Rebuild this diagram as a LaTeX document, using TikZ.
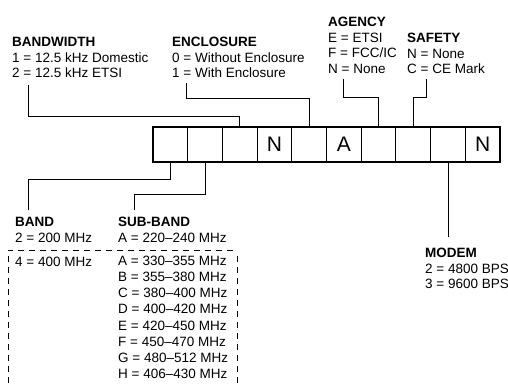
\documentclass[tikz,border=0pt]{standalone}
\usepackage{fontspec}
\setmainfont{Liberation Sans}
\usetikzlibrary{positioning}

\tikzset{
	lbl/.style={anchor=north west, inner sep=0pt, align=left, font=\fontsize{13.5pt}{15.6pt}\selectfont},
	digit/.style={draw, line width=1.1pt, minimum width=34.7pt, minimum height=35pt, inner sep=0pt, outer sep=0pt, font=\fontsize{21pt}{24pt}\selectfont, text height=15pt, text depth=-4pt},
	lead/.style={line width=0.9pt},
}

\begin{document}
\begin{tikzpicture}[x=1pt, y=1pt]
		\useasboundingbox (0,0) rectangle (508,383);
		
		% part number boxes
		\node[digit, anchor=south west] (b1) at (153,221) {};
		\node[digit, right=0pt of b1] (b2) {};
		\node[digit, right=0pt of b2] (b3) {};
		\node[digit, right=0pt of b3] (b4) {N};
		\node[digit, right=0pt of b4] (b5) {};
		\node[digit, right=0pt of b5] (b6) {A};
		\node[digit, right=0pt of b6] (b7) {};
		\node[digit, right=0pt of b7] (b8) {};
		\node[digit, right=0pt of b8] (b9) {};
		\node[digit, right=0pt of b9] (b10) {N};
		
		% option lists
		\node[lbl] (bw) at (12,346) {\textbf{BANDWIDTH}\\1 = 12.5 kHz Domestic\\2 = 12.5 kHz ETSI};
		\node[lbl] (enc) at (172,346) {\textbf{ENCLOSURE}\\0 = Without Enclosure\\1 = With Enclosure};
		\node[lbl] (agency) at (328,366) {\textbf{AGENCY}\\E = ETSI\\F = FCC/IC\\N = None};
		\node[lbl] (safety) at (407,350) {\textbf{SAFETY}\\N = None\\C = CE Mark};
		\node[lbl] (band) at (15,166) {\textbf{BAND}\\2 = 200 MHz};
		\node[lbl] (band4) at (15,126) {4 = 400 MHz};
		\node[lbl] (sub) at (118,166) {\textbf{SUB-BAND}\\A = 220--240 MHz};
		\node[lbl, font=\fontsize{13.5pt}{16.1pt}\selectfont] (sublist) at (118,127) {A = 330--355 MHz\\B = 355--380 MHz\\C = 380--400 MHz\\D = 400--420 MHz\\E = 420--450 MHz\\F = 450--470 MHz\\G = 480--512 MHz\\H = 406--430 MHz};
		\node[lbl] (modem) at (425,135) {\textbf{MODEM}\\2 = 4800 BPS\\3 = 9600 BPS};
		
		% leads from the lists to the boxes
		\draw[lead] ([shift={(16,-7)}]bw.south west) |- ([yshift=11]b3.north) -- (b3.north);
		\draw[lead] ([shift={(14,-5)}]enc.south west) |- ([yshift=29]b5.north) -- (b5.north);
		\draw[lead] ([shift={(15,-5)}]agency.south west) |- ([yshift=30]b7.north) -- (b7.north);
		\draw[lead] ([shift={(19,-5)}]safety.south west) |- ([yshift=30]b8.north) -- (b8.north);
		\draw[lead] (b1.south) -- ++(0,-17) -| ([shift={(13,7)}]band.north west);
		\draw[lead] (b2.south) -- ++(0,-32) -| ([shift={(16,7)}]sub.north west);
		\coordinate (mtop) at ([yshift=11]modem.north);
		\draw[lead] (b9.south) -- (b9.south |- mtop);
		
		% 400 MHz group
		\draw[lead, dash pattern=on 6pt off 5pt] (237,0) -- (237,128);
		\draw[lead, dash pattern=on 6pt off 5pt] (233,133) -- (8,133) -- (8,0);
		
	\end{tikzpicture}
\end{document}
